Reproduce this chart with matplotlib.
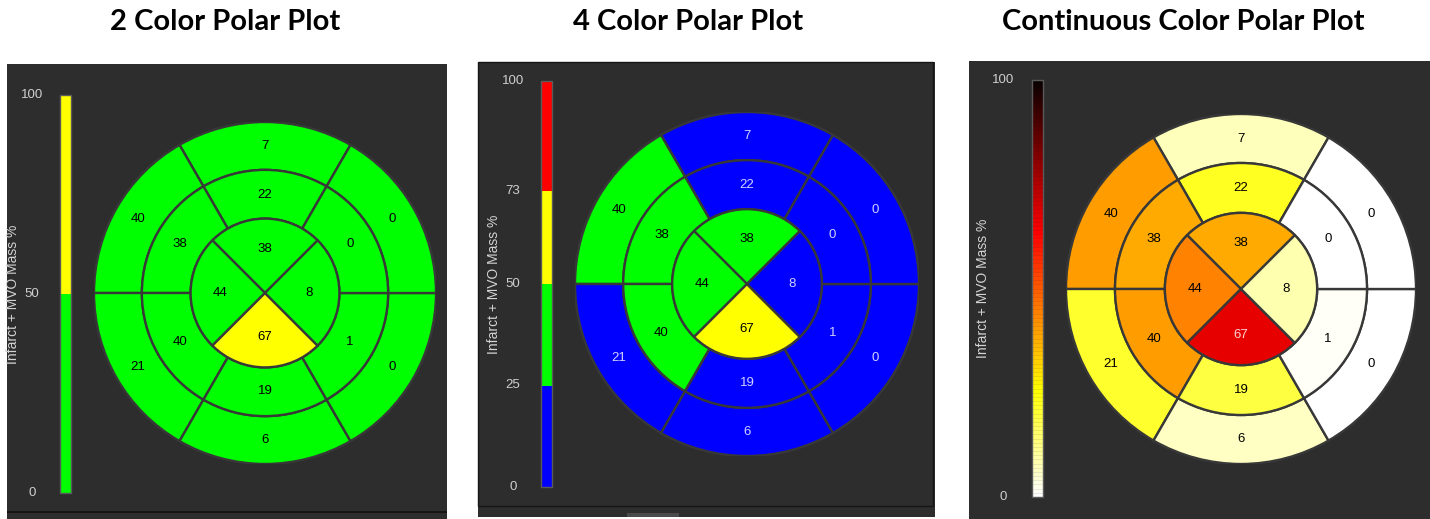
import numpy as np
import matplotlib.pyplot as plt
from matplotlib.patches import Wedge, Rectangle
from matplotlib.colors import ListedColormap, BoundaryNorm, Normalize, to_rgb
from matplotlib.cm import ScalarMappable
from matplotlib.transforms import blended_transform_factory

W, H = 1430, 519

titles = ["2 Color Polar Plot", "4 Color Polar Plot", "Continuous Color Polar Plot"]

# 16 segment values, counter-clockwise starting at the top of each ring
basal = [7, 40, 21, 6, 0, 0]
mid = [22, 38, 40, 19, 1, 0]
apical = [38, 44, 67, 8]

bounds_2 = [0, 50, 100]
colors_2 = ['#00ff00', '#ffff00']
bounds_4 = [0, 25, 50, 73, 100]
colors_4 = ['#0000ff', '#00ff00', '#ffff00', '#ff0000']
cont_ticks = [0, 100]
cbar_label = "Infarct + MVO Mass %"

BG = '#2d2d2d'
EDGE = '#383838'

fig = plt.figure(figsize=(W / 100, H / 100), dpi=100)
fig.patch.set_facecolor('white')


def box(x0, y0, x1, y1):
    # pixel box (origin top-left) -> figure fraction rect
    return [x0 / W, 1 - y1 / H, (x1 - x0) / W, (y1 - y0) / H]


def rect(x0, y0, x1, y1, **kw):
    l, b, w, h = box(x0, y0, x1, y1)
    fig.add_artist(Rectangle((l, b), w, h, transform=fig.transFigure, zorder=-5, **kw))


def text_colour(fc):
    r, g, b = to_rgb(fc)
    if 0.299 * r + 0.587 * g + 0.114 * b < 0.35:
        return tuple(0.82 + 0.18 * c for c in (r, g, b))
    return 'black'


def bullseye(cx, cy, R, colour_of):
    ax = fig.add_axes(box(cx - R, cy - R, cx + R, cy + R))
    ax.set_xlim(-1, 1)
    ax.set_ylim(-1, 1)
    ax.set_aspect('equal')
    ax.axis('off')
    rings = [(basal, 0.72, 1.0, 0.86), (mid, 0.435, 0.72, 0.575), (apical, 0.0, 0.435, 0.26)]
    for vals, r0, r1, rt in rings:
        step = 360 / len(vals)
        for i, v in enumerate(vals):
            a = 90 + step * i
            fc = colour_of(v)
            ax.add_patch(Wedge((0, 0), r1, a - step / 2, a + step / 2,
                               width=(r1 - r0) if r0 > 0 else None,
                               facecolor=fc, edgecolor=EDGE, lw=1.7))
            ax.text(rt * np.cos(np.radians(a)), rt * np.sin(np.radians(a)), str(v),
                    ha='center', va='center', fontsize=9.5, family='Liberation Sans',
                    color=text_colour(fc))


def colourbar(x0, y0, x1, y1, sm, ticks, tick_x, label_x, **kw):
    cax = fig.add_axes(box(x0, y0, x1, y1))
    cb = fig.colorbar(sm, cax=cax, **kw)
    cb.outline.set_edgecolor('#5a5a5a')
    cb.outline.set_linewidth(1)
    cb.set_ticks([])
    cax.minorticks_off()
    cax.tick_params(which='both', length=0, labelright=False)
    tr = blended_transform_factory(fig.transFigure, cax.transData)
    for t in ticks:
        cax.text(tick_x / W, t, str(t), transform=tr, ha='center', va='center',
                 fontsize=9.5, family='Liberation Sans', color='#cfcfcf')
    fig.text(label_x / W, 1 - (y0 + y1) / 2 / H, cbar_label, rotation=90,
             ha='center', va='center', fontsize=10, family='Liberation Sans', color='#d4d4d4')
    return cb


# panel backgrounds
rect(7, 64, 447, 519, facecolor=BG, edgecolor='none')
rect(7, 511, 447, 513, facecolor='#151515', edgecolor='none')
rect(478, 62, 935, 517, facecolor=BG, edgecolor='none')
rect(478, 62, 933, 506, facecolor='none', edgecolor='#151515', lw=1)
rect(627, 513, 679, 517, facecolor='#4a4a4a', edgecolor='none')
rect(969, 61, 1430, 519, facecolor=BG, edgecolor='none')

# titles
for t, x in zip(titles, [225, 688, 1183]):
    fig.text(x / W, 1 - 22 / H, t, ha='center', va='center', fontsize=21,
             fontweight='bold', family='Lato', color='black')

# 2 colour
cmap2 = ListedColormap(colors_2)
norm2 = BoundaryNorm(bounds_2, cmap2.N)
bullseye(265, 293, 171, lambda v: cmap2(norm2(v)))
colourbar(60, 95, 71, 493, ScalarMappable(norm2, cmap2), bounds_2, 32, 13,
          spacing='proportional')

# 4 colour
cmap4 = ListedColormap(colors_4)
norm4 = BoundaryNorm(bounds_4, cmap4.N)
bullseye(747, 284, 172, lambda v: cmap4(norm4(v)))
colourbar(541, 81, 552, 487, ScalarMappable(norm4, cmap4), bounds_4, 513, 494,
          spacing='proportional')

# continuous
hot = plt.get_cmap('hot_r')
normc = Normalize(0, 100)
bullseye(1241, 289, 175, lambda v: hot(normc(v)))
cb = colourbar(1032, 80, 1043, 497, ScalarMappable(normc, hot.resampled(100)), cont_ticks,
               1003, 983, drawedges=True)
cb.dividers.set_color((0, 0, 0, 0.12))
cb.dividers.set_linewidth(0.5)

fig.savefig('out.png', dpi=100, facecolor='white')
